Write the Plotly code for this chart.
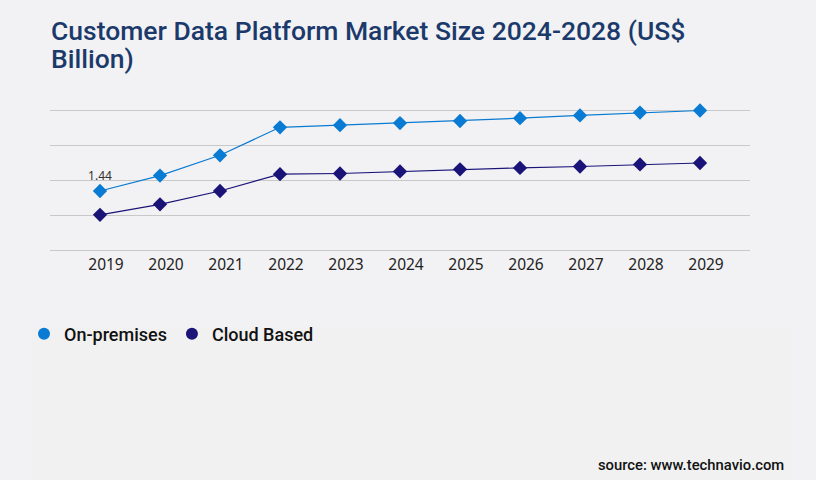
import plotly.graph_objects as go

years = ["2019", "2020", "2021", "2022", "2023", "2024", "2025", "2026", "2027", "2028", "2029"]
on_premises = [1.44, 1.66, 1.95, 2.35, 2.38, 2.41, 2.44, 2.48, 2.52, 2.56, 2.59]
cloud_based = [1.10, 1.25, 1.44, 1.68, 1.69, 1.72, 1.75, 1.77, 1.79, 1.82, 1.84]
series_names = ["On-premises", "Cloud Based"]
series_colors = ["#0a7bd2", "#1a1478"]
title_lines = ["Customer Data Platform Market Size 2024-2028 (US$", "Billion)"]
source_text = "source: www.technavio.com"

W, H = 816, 480
L, R, T, B = 50, 66, 106, 230
plot_h = H - T - B

def py(ypx):
    return (H - B - ypx) / plot_h

def px(xpx):
    return (xpx - L) / (W - L - R)

fig = go.Figure()

fig.add_trace(go.Scatter(
    x=years, y=on_premises, mode="lines+markers+text",
    text=[f"{on_premises[0]:.2f}"] + [""] * (len(years) - 1),
    textposition="top center",
    textfont=dict(family="Noto Sans", size=12, color="#333333"),
    line=dict(color=series_colors[0], width=1.2),
    marker=dict(symbol="diamond", size=11, color=series_colors[0]),
    showlegend=False, cliponaxis=False, name=series_names[0],
))
fig.add_trace(go.Scatter(
    x=years, y=cloud_based, mode="lines+markers",
    line=dict(color=series_colors[1], width=1.2),
    marker=dict(symbol="diamond", size=11, color=series_colors[1]),
    showlegend=False, cliponaxis=False, name=series_names[1],
))
for name, color in zip(series_names, series_colors):
    fig.add_trace(go.Scatter(
        x=[None], y=[None], mode="markers", name=name,
        marker=dict(symbol="circle", size=12, color=color),
    ))

title_font = dict(family="Roboto", size=26.5, color="#1b3a6b", weight=500)
annotations = [
    dict(text=title_lines[0], xref="paper", yref="paper", x=px(49), y=py(30),
         xanchor="left", yanchor="middle", showarrow=False, font=title_font),
    dict(text=title_lines[1], xref="paper", yref="paper", x=px(49), y=py(58),
         xanchor="left", yanchor="middle", showarrow=False, font=title_font),
    dict(text=source_text, xref="paper", yref="paper", x=px(786), y=py(465),
         xanchor="right", yanchor="middle", showarrow=False,
         font=dict(family="Roboto", size=14.8, color="#111111", weight=500)),
]

fig.update_layout(
    width=W, height=H,
    margin=dict(l=L, r=R, t=T, b=B, autoexpand=False),
    paper_bgcolor="#f2f2f4", plot_bgcolor="#f2f2f4",
    annotations=annotations,
    shapes=[dict(type="rect", xref="paper", yref="paper",
                 x0=px(31), x1=px(791), y0=py(480), y1=py(328),
                 fillcolor="#f1f1f1", line=dict(width=0), layer="below")],
    legend=dict(orientation="h", xref="container", yref="container",
                x=24 / W, y=1 - 334 / H, xanchor="left", yanchor="middle",
                font=dict(family="Roboto", size=18, color="#111111", weight=500),
                bgcolor="rgba(0,0,0,0)", itemwidth=30),
    xaxis=dict(type="category", range=[-0.8333, 10.8333], showgrid=False,
               showline=True, linecolor="#c8c8c8", linewidth=1,
               ticks="", ticklabelshift=6, ticklabelstandoff=0,
               tickfont=dict(family="Noto Sans", size=15.5, color="#222222"),
               zeroline=False),
    yaxis=dict(range=[0.597, 0.597 + plot_h / 70], tick0=1.097, dtick=0.5,
               showgrid=True, gridcolor="#c8c8c8", gridwidth=1,
               showticklabels=False, zeroline=False, showline=False, ticks=""),
)

fig.write_html("out.html", config={"displayModeBar": False},
               post_script="document.body.style.margin='0';document.body.style.overflow='hidden';")
